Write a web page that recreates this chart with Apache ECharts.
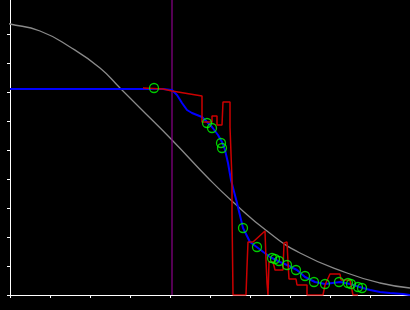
<!DOCTYPE html>
<html><head><meta charset="utf-8">
<script src="https://cdn.jsdelivr.net/npm/echarts@6/dist/echarts.min.js"></script>
<style>html,body{margin:0;padding:0;background:#000;}#c{width:410px;height:310px;}</style>
</head><body><div id="c"></div>
<script>
// Values in axis units (x: 0..400, tick every 40; y: 0..295, tick every 29)
const grayX = [-10,0,30,60,90,110,130,162,200,223,257,290,337,370,400];
const grayY = [273,271,264,248,227,207,187,155,115,93,64,42,22,12,7];

const blueX = [0,140,153,162,167,172,177,182,192,197,202,208,212,215,218,221,227,233,240,248,260,270,277,287,295,305,315,330,340,353,360,370,380,393,400];
const blueY = [206,206,206,205,200,192,185,182,178,173,168,160,153,145,132,115,92,67,53,47,38,33,30,25,18,13,11,13,11,7,5,3,2,1,0];

const redX = [133,153,162,180,192,192,202,202,207,207,212,213,220,220,221,222,222,223,236,237,238,243,255,256,257,258,259,263,265,273,274,277,278,279,286,287,297,297,313,315,320,330,331,340,342,343,348];
const redY = [207,206,204,201,199,173,173,179,179,170,170,193,193,168,168,115,82,0,0,28,53,53,64,35,12,0,33,33,25,25,52,53,33,16,16,10,10,0,0,10,21,21,15,15,5,0,0];

const circX = [144,197,202,211,212,233,247,262,265,269,277,286,295,304,315,329,338,341,348,352];
const circY = [207,172,167,152,147,67,48,37,36,34,30,25,19,13,11,13,12,11,8,7];

const markerX = 162;
const yTicks = [0,29,58,87,116,145,174,203,232,261];

const zip = (xs, ys) => xs.map((x, i) => [x, ys[i]]);

const chart = echarts.init(document.getElementById('c'));
chart.setOption({
  backgroundColor: '#000',
  animation: false,
  grid: { left: 10, right: 0, top: 0, bottom: 15 },
  xAxis: {
    type: 'value', min: 0, max: 400, interval: 40,
    axisLine: { show: true, lineStyle: { color: '#fff', width: 1 } },
    axisTick: { show: true, length: 3, lineStyle: { color: '#fff' } },
    axisLabel: { show: false },
    splitLine: { show: false }
  },
  yAxis: {
    type: 'value', min: 0, max: 295, interval: 29,
    axisLine: { show: true, lineStyle: { color: '#fff', width: 1 } },
    axisTick: { show: true, length: 3, lineStyle: { color: '#fff' }, customValues: yTicks },
    axisLabel: { show: false },
    splitLine: { show: false }
  },
  series: [
    { type: 'line', data: zip(grayX, grayY), smooth: true, clip: false, symbol: 'none',
      lineStyle: { color: '#8a8a8a', width: 1.3 }, z: 1 },
    { type: 'line', data: [[markerX, 0], [markerX, 295]], symbol: 'none',
      lineStyle: { color: '#800080', width: 1.3 }, z: 2 },
    { type: 'line', data: zip(blueX, blueY), symbol: 'none',
      lineStyle: { color: '#0000ff', width: 2 }, z: 3 },
    { type: 'line', data: zip(redX, redY), symbol: 'none',
      lineStyle: { color: '#cc0000', width: 1.5 }, z: 4 },
    { type: 'scatter', data: zip(circX, circY), symbol: 'circle', symbolSize: 9,
      itemStyle: { color: 'rgba(0,0,0,0)', borderColor: '#00ff00', borderWidth: 1.3 }, z: 5 }
  ]
});
</script>
</body></html>
